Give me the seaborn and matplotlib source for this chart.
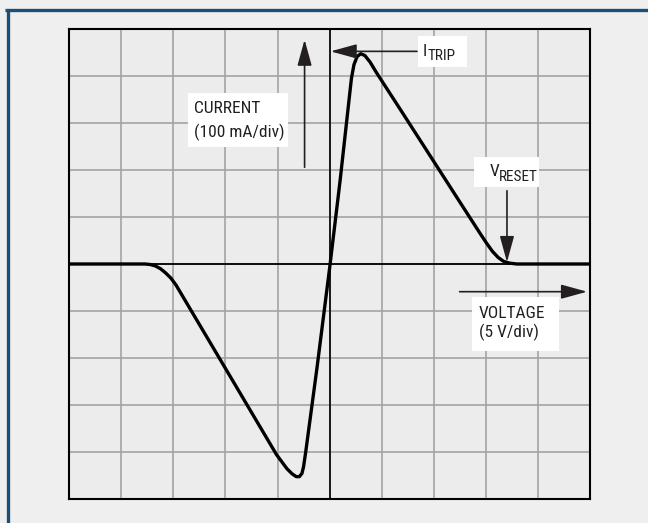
import matplotlib
matplotlib.use("Agg")
import matplotlib.pyplot as plt
import seaborn as sns
import numpy as np
import pandas as pd
from matplotlib.patches import Rectangle
from matplotlib.lines import Line2D
from matplotlib import font_manager

# Data (divisions: x = voltage, 5 V/div; y = current, 100 mA/div)
voltage_div = [-5.0, -3.55, -3.45, -3.35, -3.25, -3.15, -3.05, -2.95, -2.03, -1.02,
               -0.82, -0.72, -0.64, -0.58, -0.53, -0.50, -0.46, -0.24, 0.0, 0.2,
               0.36, 0.42, 0.47, 0.53, 0.60, 0.68, 0.78, 0.90, 1.35, 2.0, 2.51,
               2.90, 3.02, 3.13, 3.24, 3.34, 3.45, 3.6, 5.0]
current_div = [0.0, 0.0, -0.01, -0.04, -0.10, -0.19, -0.30, -0.45, -2.17, -4.06,
               -4.36, -4.47, -4.53, -4.53, -4.46, -4.32, -4.02, -2.2, -0.1, 1.75,
               3.35, 3.95, 4.25, 4.42, 4.48, 4.44, 4.3, 4.08, 3.31, 2.19, 1.31,
               0.64, 0.44, 0.27, 0.14, 0.06, 0.02, 0.0, 0.0]
grid_ticks = [-5, -4, -3, -2, -1, 0, 1, 2, 3, 4, 5]

label_current = ["CURRENT", "(100 mA/div)"]
label_voltage = ["VOLTAGE", "(5 V/div)"]
label_trip = ["I", "TRIP"]
label_reset = ["V", "RESET"]

sns.set_style("white")
names = {f.name for f in font_manager.fontManager.ttflist}
fam = [n for n in ['Liberation Sans Narrow', 'Roboto Condensed', 'Open Sans Condensed',
                   'DejaVu Sans Condensed', 'DejaVu Sans'] if n in names] or ['DejaVu Sans']
plt.rcParams['font.family'] = fam + ['DejaVu Sans']
plt.rcParams['font.stretch'] = 'condensed'

BG = "#efefef"
INK = "#231f20"
fig = plt.figure(figsize=(6.48, 5.23), dpi=100, facecolor=BG)
ax = fig.add_axes([69.4/648, 1 - 498.7/523, (589.7 - 69.4)/648, (498.7 - 29.3)/523])
ax.set_facecolor("#ececec")

# blue frame lines (top and left)
fig.add_artist(Line2D([5/648, 1.0], [1 - 10/523, 1 - 10/523], color="#1b4f78", lw=2.4,
                      transform=fig.transFigure, solid_capstyle="butt"))
fig.add_artist(Line2D([7.5/648, 7.5/648], [0.0, 1 - 8.8/523], color="#1b4f78", lw=2.4,
                      transform=fig.transFigure, solid_capstyle="butt"))

ax.set_xlim(-5, 5)
ax.set_ylim(-5, 5)
ax.set_xticks(grid_ticks)
ax.set_yticks(grid_ticks)
ax.grid(True, color="#a3a3a3", lw=1.2)
ax.tick_params(length=0, labelbottom=False, labelleft=False)
for s in ax.spines.values():
    s.set_color("black")
    s.set_linewidth(1.5)
    s.set_visible(True)
ax.axhline(0, color="black", lw=1.3, zorder=2)
ax.axvline(0, color="black", lw=1.2, zorder=2)

df = pd.DataFrame({"v": voltage_div, "i": current_div})
sns.lineplot(data=df, x="v", y="i", sort=False, estimator=None, color="black",
             lw=2.4, ax=ax, zorder=5)
ax.lines[-1].set_solid_joinstyle("round")
ax.lines[-1].set_solid_capstyle("butt")
ax.set_xlabel("")
ax.set_ylabel("")

# white label boxes
boxes = [(1.70, 4.20, 0.95, 0.65), (-2.73, 2.49, 1.94, 1.15),
         (2.77, 1.63, 1.25, 0.66), (2.74, -1.86, 1.67, 1.15)]
for (bx, by, bw, bh) in boxes:
    ax.add_patch(Rectangle((bx, by), bw, bh, facecolor="white", edgecolor="none", zorder=3))

fs = 12.5
kw = dict(fontsize=fs, color=INK, va="baseline", ha="left", zorder=4, fontstretch="condensed")
t1 = ax.text(1.78, 4.43, label_trip[0], **kw)
ax.annotate(label_trip[1], xy=(1, 0), xycoords=t1, xytext=(0.8, -3.1),
            textcoords="offset points", fontsize=fs * 0.88, color=INK, va="bottom",
            ha="left", zorder=4, fontstretch="condensed")
t2 = ax.text(3.07, 1.87, label_reset[0], **kw)
ax.annotate(label_reset[1], xy=(1, 0), xycoords=t2, xytext=(0.2, -3.1),
            textcoords="offset points", fontsize=fs * 0.88, color=INK, va="bottom",
            ha="left", zorder=4, fontstretch="condensed")
ax.text(-2.60, 3.21, label_current[0], **kw)
ax.text(-2.60, 2.71, label_current[1], **kw)
ax.text(2.87, -1.15, label_voltage[0], **kw)
ax.text(2.87, -1.56, label_voltage[1], **kw)

astyle = dict(arrowstyle="-|>,head_length=0.8,head_width=0.22", mutation_scale=20,
              color=INK, lw=1.2, shrinkA=0, shrinkB=0)
ax.annotate("", xy=(-0.48, 4.78), xytext=(-0.48, 2.06), arrowprops=astyle, zorder=6)
ax.annotate("", xy=(0.02, 4.53), xytext=(1.68, 4.53), arrowprops=astyle, zorder=6)
ax.annotate("", xy=(3.41, 0.04), xytext=(3.41, 1.56), arrowprops=astyle, zorder=6)
ax.annotate("", xy=(4.95, -0.59), xytext=(2.5, -0.59), arrowprops=astyle, zorder=6)

fig.savefig("out.png", dpi=100, facecolor=BG)
